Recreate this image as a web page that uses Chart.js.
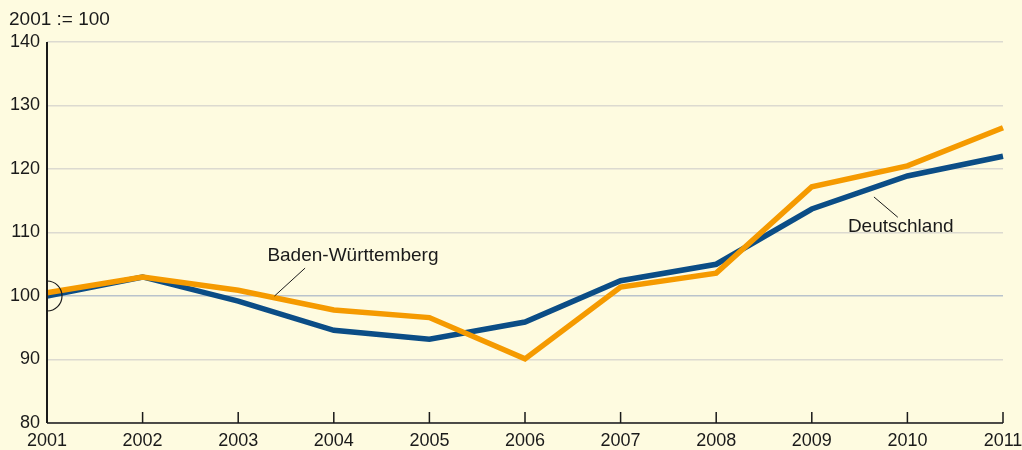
<!DOCTYPE html>
<html>
<head>
<meta charset="utf-8">
<script src="https://cdn.jsdelivr.net/npm/chart.js@4/dist/chart.umd.min.js"></script>
<style>
  html, body { margin: 0; padding: 0; background: #fefbe0; }
  #wrap { width: 1022px; height: 450px; position: relative; }
</style>
</head>
<body>
<div id="wrap"><canvas id="chart"></canvas></div>
<script>
// Index 2001 = 100
const years = ['2001', '2002', '2003', '2004', '2005', '2006', '2007', '2008', '2009', '2010', '2011'];
const deutschland = [100, 103, 99.2, 94.6, 93.2, 95.9, 102.4, 105.0, 113.7, 118.9, 122.0];
const badenWuerttemberg = [100.5, 103, 100.9, 97.8, 96.6, 90.1, 101.4, 103.6, 117.2, 120.5, 126.5];
const yTicks = [80, 90, 100, 110, 120, 130, 140];

const FONT = '"Liberation Sans", Arial, sans-serif';
const INK = '#1a1a1a';

// extra drawing: axis marks, break symbol, series labels
const extras = {
    id: 'extras',
    afterDatasetsDraw(chart) {
        const ctx = chart.ctx;
        const x = chart.scales.x, y = chart.scales.y;
        const area = chart.chartArea;
        const px = v => x.getPixelForValue(v - 2001);
        ctx.save();
        // x axis line and ticks
        ctx.strokeStyle = INK;
        ctx.lineWidth = 1.5;
        ctx.beginPath();
        ctx.moveTo(area.left, area.bottom);
        ctx.lineTo(area.right, area.bottom);
        years.forEach((yr, i) => {
            if (i === 0) return;
            const xx = x.getPixelForValue(i);
            ctx.moveTo(xx, area.bottom);
            ctx.lineTo(xx, area.bottom - 11);
        });
        ctx.stroke();
        // y axis line
        ctx.lineWidth = 2;
        ctx.beginPath();
        ctx.moveTo(area.left, area.top);
        ctx.lineTo(area.left, area.bottom);
        ctx.stroke();
        // half circle at the base value
        ctx.lineWidth = 1.2;
        ctx.beginPath();
        ctx.arc(area.left, y.getPixelForValue(100), 15, -Math.PI / 2, Math.PI / 2);
        ctx.stroke();
        // leader lines
        ctx.lineWidth = 1;
        ctx.beginPath();
        ctx.moveTo(px(2003.38), y.getPixelForValue(100.0));
        ctx.lineTo(px(2003.70), y.getPixelForValue(104.4));
        ctx.moveTo(px(2009.65), y.getPixelForValue(115.6));
        ctx.lineTo(px(2009.90), y.getPixelForValue(112.4));
        ctx.stroke();
        // labels
        ctx.fillStyle = INK;
        ctx.font = '19px ' + FONT;
        ctx.textAlign = 'center';
        ctx.textBaseline = 'middle';
        ctx.fillText('Baden-Württemberg', px(2004.2), y.getPixelForValue(106.3));
        ctx.fillText('Deutschland', px(2009.93), y.getPixelForValue(110.9));
        // unit note
        ctx.textAlign = 'left';
        ctx.fillText('2001 := 100', 9, 20);
        ctx.restore();
    }
};

new Chart(document.getElementById('chart').getContext('2d'), {
    type: 'line',
    data: {
        labels: years,
        datasets: [{
            label: 'Deutschland',
            data: deutschland,
            borderColor: '#0b4d86',
            borderWidth: 5.5,
            pointRadius: 0,
            tension: 0,
            order: 2
        }, {
            label: 'Baden-Württemberg',
            data: badenWuerttemberg,
            borderColor: '#f59a00',
            borderWidth: 5.5,
            pointRadius: 0,
            tension: 0,
            order: 1
        }]
    },
    options: {
        responsive: true,
        maintainAspectRatio: false,
        animation: false,
        layout: { padding: { top: 42, right: 19, left: 0, bottom: 0 } },
        plugins: {
            legend: { display: false },
            tooltip: { enabled: false }
        },
        scales: {
            x: {
                offset: false,
                grid: { display: false, drawTicks: false },
                border: { display: false },
                ticks: {
                    color: INK,
                    font: { family: FONT, size: 18 },
                    padding: 7,
                    maxRotation: 0,
                    autoSkip: false
                },
                afterFit(scale) {
                    scale.height = 27;
                    scale.paddingLeft = 0;
                    scale.paddingRight = 0;
                }
            },
            y: {
                min: 80,
                max: 140,
                afterBuildTicks(scale) { scale.ticks = yTicks.map(v => ({ value: v })); },
                grid: {
                    color: ctx => ctx.tick && ctx.tick.value === 100 ? '#b9c3cc' : '#dcdad0',
                    lineWidth: 1.5,
                    drawTicks: false
                },
                border: { display: false },
                ticks: {
                    color: INK,
                    font: { family: FONT, size: 18 },
                    padding: 7
                },
                afterFit(scale) {
                    scale.width = 47;
                    scale.paddingTop = 0;
                    scale.paddingBottom = 0;
                }
            }
        }
    },
    plugins: [extras]
});
</script>
</body>
</html>
